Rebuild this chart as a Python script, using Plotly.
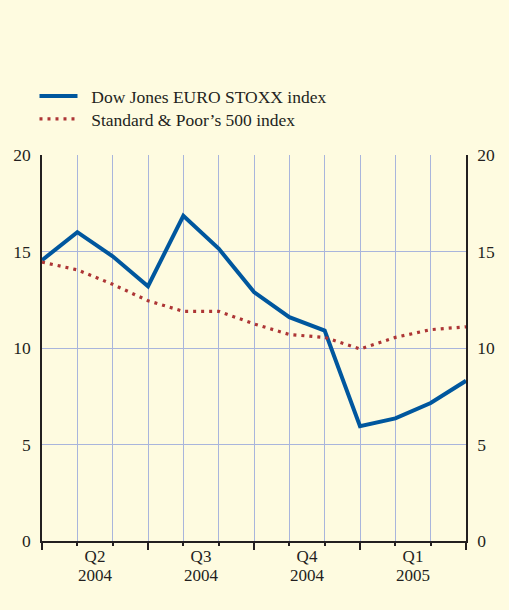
import plotly.graph_objects as go

months = list(range(13))
euro_stoxx = [14.55, 16.0, 14.75, 13.2, 16.85, 15.15, 12.9, 11.6, 10.9, 5.95, 6.35, 7.15, 8.3]
sp500 = [14.45, 14.05, 13.3, 12.45, 11.9, 11.9, 11.25, 10.7, 10.55, 9.95, 10.55, 10.95, 11.1]
quarter_pos = [1.5, 4.5, 7.5, 10.5]
quarter_names = ["Q2", "Q3", "Q4", "Q1"]
quarter_years = ["2004", "2004", "2004", "2005"]
y_ticks = [0, 5, 10, 15, 20]

BG = "#fefbe0"
GRID = "#a9b5dc"
AXIS = "#231f20"
FONT = dict(family="Liberation Serif, Times New Roman, serif", size=17.5, color=AXIS)
XFONT = dict(FONT, size=17)
NB = "\u00a0\u00a0"

fig = go.Figure()
fig.add_trace(go.Scatter(x=months, y=euro_stoxx, mode="lines",
                         name=NB + "Dow Jones EURO STOXX index", legend="legend",
                         line=dict(color="#00579e", width=4)))
fig.add_trace(go.Scatter(x=months, y=sp500, mode="lines",
                         name=NB + "Standard & Poor\u2019s 500 index", legend="legend2",
                         line=dict(color="#ad3535", width=3.2, dash="3px,5px")))
fig.add_trace(go.Scatter(x=[None], y=[None], xaxis="x2", yaxis="y2",
                         showlegend=False, hoverinfo="skip"))
fig.add_trace(go.Scatter(x=[None], y=[None], xaxis="x3", yaxis="y",
                         showlegend=False, hoverinfo="skip"))

leg = dict(xanchor="left", yanchor="middle", bgcolor="rgba(0,0,0,0)",
           font=FONT, itemwidth=38, borderwidth=0)

fig.update_layout(
    width=509, height=610,
    margin=dict(l=42, r=43, t=155, b=69, autoexpand=False),
    paper_bgcolor=BG, plot_bgcolor=BG,
    font=FONT,
    showlegend=True,
    legend=dict(leg, x=-0.0177, y=1.1526),
    legend2=dict(leg, x=-0.0177, y=1.0933),
    xaxis=dict(range=[0, 12], tickvals=[0, 3, 6, 9, 12], ticktext=[""] * 5,
               ticks="outside", ticklen=7, tickcolor=AXIS, tickwidth=1.5,
               showgrid=True, gridcolor=GRID, gridwidth=1,
               showline=True, linecolor=AXIS, linewidth=1.5,
               zeroline=False,
               minor=dict(dtick=1, tick0=0, ticks="outside", ticklen=3,
                          tickcolor=AXIS, tickwidth=1.5,
                          showgrid=True, gridcolor=GRID, gridwidth=1)),
    xaxis2=dict(range=[0, 12], overlaying="x", side="bottom",
                tickvals=quarter_pos, ticktext=quarter_names,
                ticks="", showgrid=False, showline=False, zeroline=False,
                tickfont=XFONT, ticklabelstandoff=3),
    xaxis3=dict(range=[0, 12], overlaying="x", side="bottom",
                tickvals=quarter_pos, ticktext=quarter_years,
                ticks="", showgrid=False, showline=False, zeroline=False,
                tickfont=XFONT, ticklabelstandoff=22),
    yaxis=dict(range=[0, 20], tickvals=y_ticks, ticks="",
               showgrid=True, gridcolor=GRID, gridwidth=1,
               showline=True, linecolor=AXIS, linewidth=1.5,
               zeroline=False, tickfont=FONT, ticklabelstandoff=6),
    yaxis2=dict(range=[0, 20], tickvals=y_ticks, overlaying="y", side="right",
                ticks="", showgrid=False, showline=True, linecolor=AXIS,
                linewidth=1.5, zeroline=False, tickfont=FONT,
                ticklabelstandoff=6),
)

fig.write_html("out.html", config={"displayModeBar": False},
               post_script="document.body.style.margin='0';"
                           "document.body.style.background='" + BG + "';")
